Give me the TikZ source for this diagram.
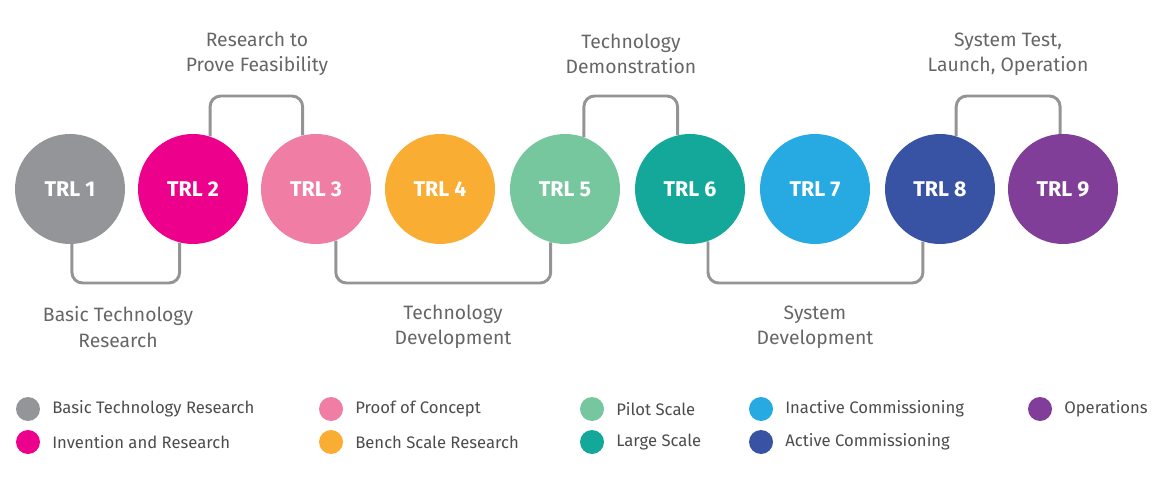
\documentclass[tikz,border=0pt]{standalone}
\usepackage{fontspec}
\setmainfont{Fira Sans}
\begin{document}
\begin{tikzpicture}[x=0.75pt,y=-0.75pt,
  trl/.style={circle,minimum size=110*0.75pt,inner sep=0pt,text=white,font=\fontsize{16}{18}\selectfont\bfseries},
  conn/.style={draw=black!42,line width=2.2pt,rounded corners=8pt},
  lab/.style={align=center,text=black!60,font=\fontsize{14.5}{19}\selectfont},
  dot/.style={circle,minimum size=24*0.75pt,inner sep=0pt},
  leg/.style={anchor=west,text=black!70,font=\fontsize{12.5}{14}\selectfont,inner sep=0pt}]
\definecolor{c1}{HTML}{939598}\definecolor{c2}{HTML}{EC008C}\definecolor{c3}{HTML}{F07DA3}
\definecolor{c4}{HTML}{F9AE33}\definecolor{c5}{HTML}{77C79E}\definecolor{c6}{HTML}{14A89B}
\definecolor{c7}{HTML}{27AAE1}\definecolor{c8}{HTML}{3953A4}\definecolor{c9}{HTML}{803E98}
\useasboundingbox (0,0) rectangle (1169,484);
\foreach \i/\x in {1/70,2/193,3/316,4/440,5/565,6/690,7/815,8/940,9/1063}
  \node[trl,fill=c\i] (t\i) at (\x,189) {TRL \i};
\begin{scope}[on background layer/.try]\end{scope}
\draw[conn] (t1.-88) -- (t1.-88 |- 0,283) -- (t2.-104 |- 0,283) -- (t2.-104);
\draw[conn] (t2.72) -- (t2.72 |- 0,96) -- (t3.104 |- 0,96) -- (t3.104);
\draw[conn] (t3.-69) -- (t3.-69 |- 0,283) -- (t5.-105 |- 0,283) -- (t5.-105);
\draw[conn] (t5.70) -- (t5.70 |- 0,96) -- (t6.103 |- 0,96) -- (t6.103);
\draw[conn] (t6.-71) -- (t6.-71 |- 0,283) -- (t8.-108 |- 0,283) -- (t8.-108);
\draw[conn] (t8.73) -- (t8.73 |- 0,96) -- (t9.93 |- 0,96) -- (t9.93);
\node[lab] (l1) at (257,54) {Research to\\Prove Feasibility};
\node[lab] (l2) at (631,54) {Technology\\Demonstration};
\node[lab] (l3) at (1008,54) {System Test,\\Launch, Operation};
\node[lab] (l4) at (118,327) {Basic Technology\\Research};
\node[lab] (l5) at (453,327) {Technology\\Development};
\node[lab] (l6) at (815,327) {System\\Development};
\foreach \i/\x/\y/\t in {1/28/409/Basic Technology Research,2/28/442/Invention and Research,
  3/331/409/Proof of Concept,4/331/442/Bench Scale Research,5/592/409/Pilot Scale,
  6/592/442/Large Scale,7/761/409/Inactive Commissioning,8/761/442/Active Commissioning,
  9/1040/409/Operations}{
  \node[dot,fill=c\i] (d\i) at (\x,\y) {};
  \node[leg] (e\i) at (\x+24,\y) {\t};}
\end{tikzpicture}
\end{document}
